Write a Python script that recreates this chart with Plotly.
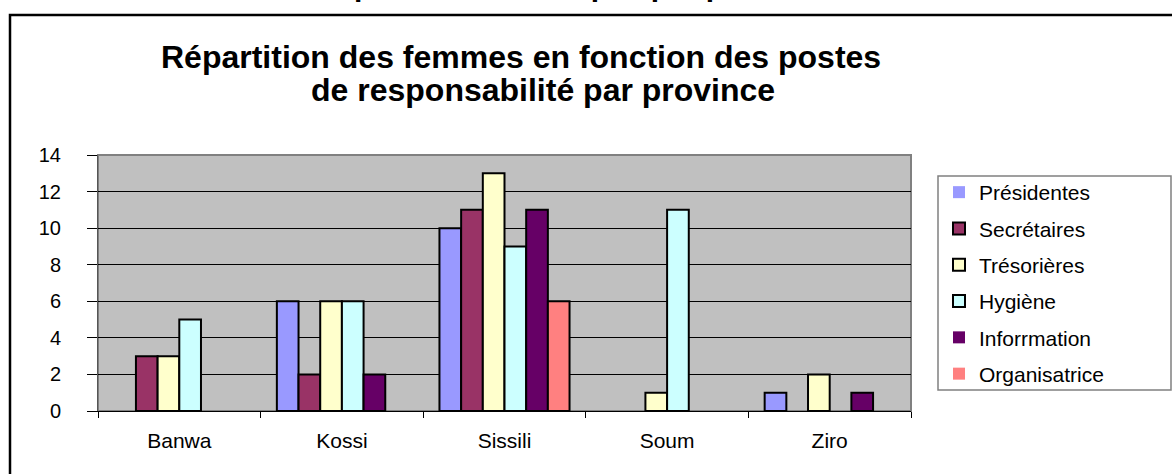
import plotly.graph_objects as go

provinces = ["Banwa", "Kossi", "Sissili", "Soum", "Ziro"]
series_names = ["Présidentes", "Secrétaires", "Trésorières", "Hygiène", "Inforrmation", "Organisatrice"]
presidentes = [0, 6, 10, 0, 1]
secretaires = [3, 2, 11, 0, 0]
tresorieres = [3, 6, 13, 1, 2]
hygiene = [5, 6, 9, 11, 0]
information = [0, 2, 11, 0, 1]
organisatrice = [0, 0, 6, 0, 0]
series_values = [presidentes, secretaires, tresorieres, hygiene, information, organisatrice]
colors = ["#9999FF", "#993366", "#FFFFCC", "#CCFFFF", "#660066", "#FF8080"]
y_ticks = [0, 2, 4, 6, 8, 10, 12, 14]

W, H = 1172, 474
L, R, T, B = 98, 911, 155, 411

def px(x):
    return (x - L) / (R - L)

def py(y):
    return (B - y) / (B - T)

FONT = "Arial, Liberation Sans, sans-serif"

fig = go.Figure()
for name, vals, col in zip(series_names, series_values, colors):
    fig.add_trace(go.Bar(
        x=provinces, y=vals, name=name, legendgroup=name,
        marker=dict(color=col, line=dict(color="black", width=[2 if v else 0 for v in vals])),
    ))

fig.update_layout(
    width=W, height=H,
    margin=dict(l=L, r=W - R, t=T, b=H - B),
    paper_bgcolor="white",
    plot_bgcolor="#C0C0C0",
    barmode="group", bargap=0.2, bargroupgap=0,
    font=dict(family=FONT, color="black", size=20),
    showlegend=True,
    legend=dict(
        x=px(939), y=py(172), xanchor="left", yanchor="top",
        bgcolor="rgba(0,0,0,0)", borderwidth=0,
        font=dict(family=FONT, size=21, color="black"),
        tracegroupgap=6, traceorder="grouped",
    ),
    xaxis=dict(
        type="category", tickson="boundaries", ticks="outside", ticklen=6,
        tickcolor="black", showline=True, linecolor="black", linewidth=1,
        showgrid=False, tickfont=dict(family=FONT, size=21, color="black"),
        ticklabelstandoff=11,
    ),
    yaxis=dict(
        range=[0, 14], tickvals=y_ticks, ticks="outside", ticklen=10,
        tickcolor="black", showline=True, linecolor="#555555", linewidth=1,
        showgrid=True, gridcolor="black", gridwidth=1, zeroline=False,
        tickfont=dict(family=FONT, size=20, color="black"),
        ticklabelstandoff=22,
    ),
    shapes=[
        dict(type="rect", xref="paper", yref="paper", x0=px(10), x1=px(1200), y0=py(15), y1=py(500),
             line=dict(color="black", width=2.5), fillcolor="rgba(0,0,0,0)", layer="above"),
        dict(type="rect", xref="paper", yref="paper", x0=0, x1=1, y0=0, y1=1,
             line=dict(color="#808080", width=2), fillcolor="rgba(0,0,0,0)", layer="below"),
        dict(type="rect", xref="paper", yref="paper", x0=px(938), x1=px(1171), y0=py(176), y1=py(390),
             line=dict(color="#808080", width=1.5), fillcolor="rgba(0,0,0,0)"),
    ],
    annotations=[
        dict(text="<b>Répartition des femmes en fonction des postes</b>", xref="paper", yref="paper",
             x=px(521), y=py(57), xanchor="center", yanchor="middle", showarrow=False,
             font=dict(family=FONT, size=32, color="black")),
        dict(text="<b>de responsabilité par province</b>", xref="paper", yref="paper",
             x=px(543), y=py(90), xanchor="center", yanchor="middle", showarrow=False,
             font=dict(family=FONT, size=32, color="black")),
        dict(text="<b>responsabilité occupés par province</b>", xref="paper", yref="paper",
             x=px(570), y=py(4), xanchor="center", yanchor="bottom", showarrow=False,
             font=dict(family=FONT, size=30, color="black")),
    ],
)

fig.write_html("out.html", config={"displayModeBar": False})
with open("out.html", "r", encoding="utf-8") as f:
    html = f.read()
html = html.replace("<body>", '<body style="margin:0;padding:0;">', 1)
with open("out.html", "w", encoding="utf-8") as f:
    f.write(html)
